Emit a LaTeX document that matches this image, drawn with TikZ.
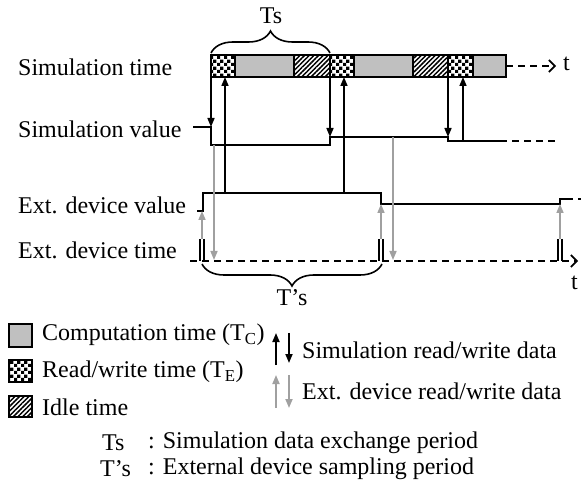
\documentclass[tikz,border=0pt]{standalone}
\usepackage{fontspec}
\setmainfont{Liberation Serif}
\usetikzlibrary{arrows.meta,patterns,patterns.meta,decorations.pathreplacing}
\pgfdeclarepatternformonly{rwchecker}{\pgfpointorigin}{\pgfqpoint{7pt}{7pt}}{\pgfqpoint{7pt}{7pt}}{%
  \pgfpathrectangle{\pgfpointorigin}{\pgfqpoint{3.5pt}{3.5pt}}%
  \pgfpathrectangle{\pgfqpoint{3.5pt}{3.5pt}}{\pgfqpoint{3.5pt}{3.5pt}}%
  \pgfusepath{fill}}
\definecolor{compgray}{RGB}{192,192,192}
\definecolor{arrgray}{RGB}{160,160,160}
\tikzset{
  sig/.style={line width=1.8pt, line join=miter},
  dsh/.style={line width=1.8pt, dash pattern=on 7pt off 5pt},
  blk/.style={line width=1.6pt, -{Triangle[length=9pt,width=7pt]}},
  gry/.style={line width=1.6pt, draw=arrgray, -{Triangle[length=9pt,width=7pt]}},
  cmp/.style={draw, line width=1.8pt, fill=compgray},
  chk/.style={draw, line width=1.8pt, pattern=rwchecker, pattern color=black},
  idl/.style={draw, line width=1.8pt, pattern={Lines[angle=45,distance=3.3pt,line width=1.5pt]}, pattern color=black},
  lbl/.style={font=\fontsize{24}{28}\selectfont, inner sep=0pt, anchor=west},
  brc/.style={decorate, decoration={brace, amplitude=22pt}, line width=1.6pt},
  axisarrow/.style={-{Straight Barb[length=6pt,width=12pt,line width=1.6pt]}},
  pulse/.style={line width=1.8pt},
}
\begin{document}
\begin{tikzpicture}[x=1pt,y=-1pt]
\useasboundingbox (0,0) rectangle (581,486);

% left labels
\node[lbl] (lsimt) at (18,67) {Simulation time};
\node[lbl] (lsimv) at (18,129) {Simulation value};
\node[lbl] (lextv) at (18,205) {Ext. device value};
\node[lbl] (lextt) at (18,250) {Ext. device time};

% simulation time bar
\draw[chk] (211,55) rectangle (235,77);
\draw[cmp] (235,55) rectangle (294,77);
\draw[idl] (294,55) rectangle (330,77);
\draw[chk] (330,55) rectangle (354,77);
\draw[cmp] (354,55) rectangle (413,77);
\draw[idl] (413,55) rectangle (448,77);
\draw[chk] (448,55) rectangle (473,77);
\draw[cmp] (473,55) rectangle (506,77);
\coordinate (barend) at (506,66);
\coordinate (barax) at (556,66);
\draw[dsh, axisarrow] (barend) -- (barax);
\node[lbl] (tbar) at (563,64) {t};

% Ts brace
\coordinate (tsL) at (211,53);
\coordinate (tsR) at (330,53);
\draw[brc] (tsL) -- (tsR);
\node[font=\fontsize{24}{28}\selectfont, inner sep=0pt] (ts) at (271,16) {Ts};

% simulation value
\coordinate (sv0) at (193,127);
\coordinate (sv1) at (211,127);
\coordinate (sv2) at (211,145);
\coordinate (sv3) at (330,145);
\coordinate (sv4) at (330,137);
\coordinate (sv5) at (448,137);
\coordinate (sv6) at (448,141);
\coordinate (sv7) at (500,141);
\coordinate (sv8) at (557,141);
\draw[sig] (sv0) -- (sv1) -- (sv2) -- (sv3) -- (sv4) -- (sv5) -- (sv6) -- (sv7);
\draw[dsh] (sv7) -- (sv8);

% ext device value
\coordinate (ev0) at (197,211);
\coordinate (ev1) at (203,211);
\coordinate (ev2) at (203,193);
\coordinate (ev3) at (381,193);
\coordinate (ev4) at (381,204);
\coordinate (ev5) at (560,204);
\coordinate (ev6) at (560,199);
\coordinate (ev7) at (566,199);
\coordinate (ev8) at (583,199);
\draw[sig] (ev0) -- (ev1) -- (ev2) -- (ev3) -- (ev4) -- (ev5) -- (ev6) -- (ev7);
\draw[dsh] (ev7) -- (ev8);

% ext device time axis
\coordinate (et0) at (190,261);
\coordinate (et1) at (578,261);
\draw[dsh, axisarrow] (et0) -- (et1);
\node[lbl] (taxis) at (571,283) {t};

% pulses
\foreach \px in {202,381,560}{
  \draw[pulse] (\px-1.9,239) -- (\px-1.9,261);
  \draw[pulse] (\px+1.9,239) -- (\px+1.9,261);
}

% T's brace
\coordinate (tpL) at (202,264);
\coordinate (tpR) at (382,264);
\draw[brc] (tpR) -- (tpL);
\node[font=\fontsize{24}{28}\selectfont, inner sep=0pt] (tps) at (292,298) {T’s};

% black arrows (simulation read/write)
\draw[blk] (211,77) -- (sv1);
\draw[blk] (225,193) -- (225,77);
\draw[blk] (330,77) -- (sv4);
\draw[blk] (344,193) -- (344,77);
\draw[blk] (448,77) -- (sv5);
\draw[blk] (463,141) -- (463,77);

% gray arrows (ext. device read/write)
\draw[gry] (214,145) -- (214,260);
\draw[gry] (393,137) -- (393,260);
\draw[gry] (202,239) -- (202,211);
\draw[gry] (381,239) -- (381,204);
\draw[gry] (560,239) -- (560,204);

% legend
\draw[cmp] (9,324) rectangle (32,347);
\draw[chk] (9,360) rectangle (32,382);
\draw[idl] (9,396) rectangle (32,417);
\node[lbl] (lgc) at (42,335) {Computation time (T\textsubscript{C})};
\node[lbl] (lgr) at (42,372) {Read/write time (T\textsubscript{E})};
\node[lbl] (lgi) at (42,407) {Idle time};

\draw[blk, line width=1.8pt] (276,365) -- (276,333);
\draw[blk, line width=1.8pt] (289,333) -- (289,363);
\draw[gry, line width=1.8pt] (276,408) -- (276,375);
\draw[gry, line width=1.8pt] (289,375) -- (289,408);
\node[lbl] (lgs) at (302,350) {Simulation read/write data};
\node[lbl] (lge) at (302,391) {Ext. device read/write data};

\node[lbl] (dts) at (102,443) {Ts};
\node[lbl] (dtsd) at (148,443) {: Simulation data exchange period};
\node[lbl] (dtp) at (100,469) {T’s};
\node[lbl] (dtpd) at (148,469) {: External device sampling period};
\end{tikzpicture}
\end{document}
